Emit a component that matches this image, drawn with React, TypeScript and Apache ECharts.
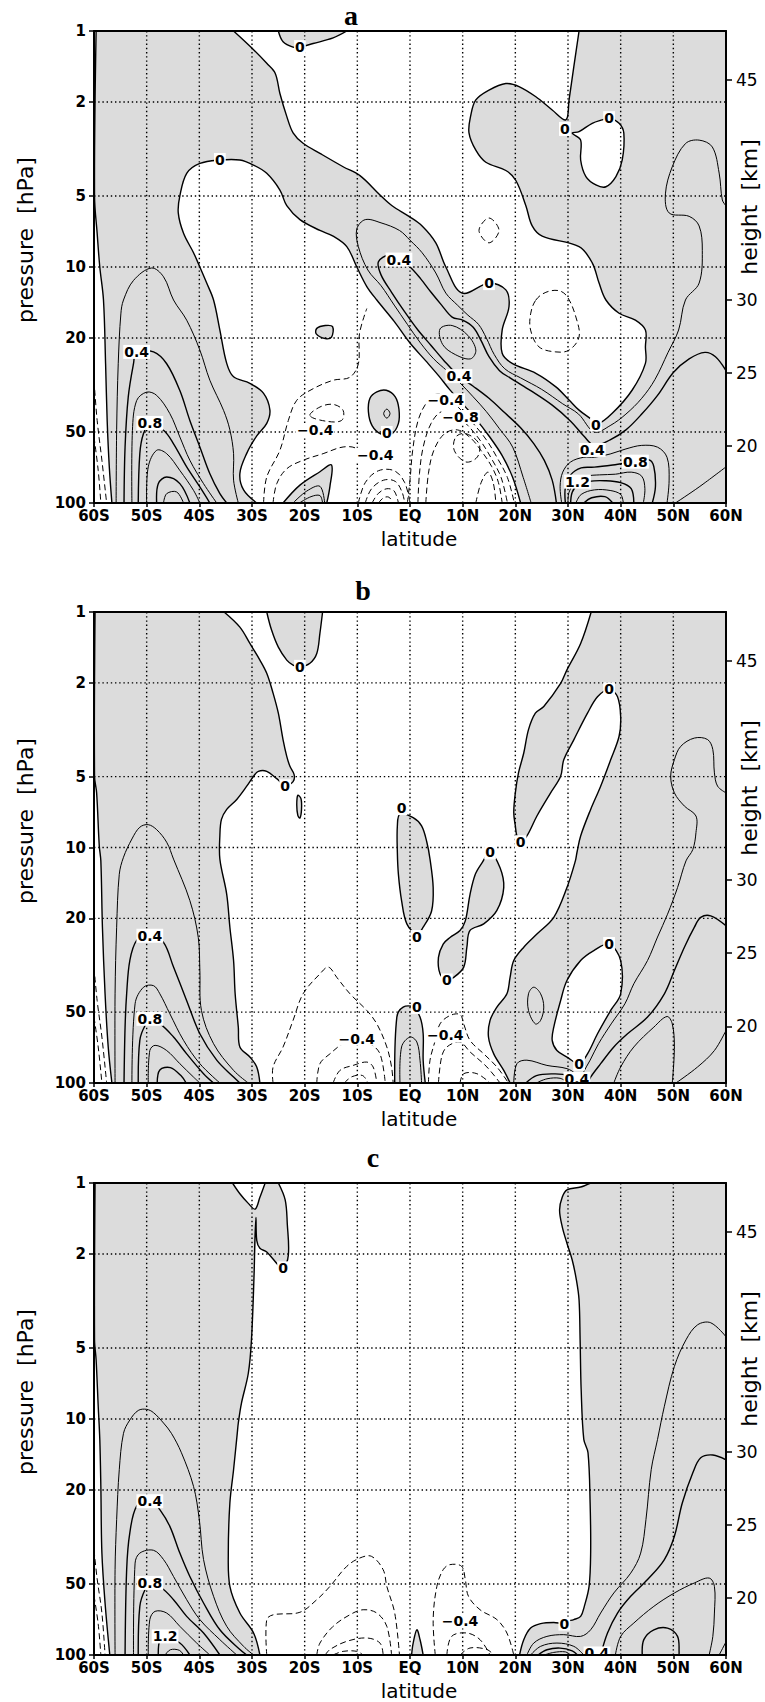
import React, { useEffect, useRef } from 'react';
import * as echarts from 'echarts';

type Pt = [number, number]; // [latitude (deg, S<0), pressure (hPa)]

// ---------------- axes / ticks ----------------
const LAT_MIN = -60;
const LAT_MAX = 60;
const LAT_GRID = [-50, -40, -30, -20, -10, 0, 10, 20, 30, 40, 50];
const PRESSURE_TICKS = [1, 2, 5, 10, 20, 50, 100];
const PRESSURE_GRID = [2, 5, 10, 20, 50];
const HEIGHT_TICKS = [20, 25, 30, 45];
const SCALE_HEIGHT_KM = 7;
const P_REF = 1000;
const PANEL_TITLES = ['a', 'b', 'c'];

// ---------------- panel a ----------------
const A_ZLEFT: Pt[] = [[-59.6, 1], [-59.9, 5], [-59.4, 7.2], [-58.9, 10], [-58.2, 13.8], [-57.8, 25.7], [-57.5, 44.7], [-57.1, 70], [-56.6, 100]];
const A_Z1: Pt[] = [[-33.5, 1], [-29.7, 1.2], [-27.2, 1.37], [-25.6, 1.51], [-24.7, 1.84], [-23.4, 2.3], [-22.2, 2.7], [-20.3, 2.99], [-17.1, 3.3], [-12.7, 3.76], [-9.5, 4.1], [-5.7, 4.95], [-3.4, 5.5], [-0.2, 6.1], [2.3, 6.7], [4.9, 7.9], [6.8, 10], [9.9, 12.9], [15, 11.7], [18.2, 12.5], [18.8, 14.7], [17.5, 18.5], [17.5, 23.2], [19.4, 25.6], [23.9, 28.2], [27.7, 32.2], [30.2, 36.6], [32.1, 40.4], [34.6, 44.5], [35.5, 46.5], [38.4, 41.7], [42.2, 33.2], [44.7, 25.6], [44.7, 21.8], [44.7, 18.5], [42.8, 16.8], [39.7, 15.7], [37.2, 13.8], [35.9, 11.7], [34.6, 9.6], [32.1, 8.2], [25.1, 7.4], [23.2, 6.7], [22, 5.5], [20.1, 4.3], [18.2, 3.9], [14.4, 3.6], [12.5, 3.2], [11.2, 2.7], [11.5, 2.3], [12.5, 1.96], [15, 1.78], [18.2, 1.67], [20.7, 1.72], [23.9, 1.9], [27, 2.16], [29.6, 2.38], [30.2, 1.96], [31.1, 1.42], [32.1, 1]];
const A_Z2: Pt[] = [[-29.1, 100], [-31.6, 88], [-32.3, 74.9], [-31, 61.6], [-29.1, 52], [-27.2, 46], [-26.6, 40.4], [-27.8, 34.3], [-30.4, 31.1], [-33.5, 29.2], [-34.8, 25.6], [-36.1, 18.5], [-37.3, 13.8], [-38.6, 11.7], [-39.9, 10], [-41.1, 8.7], [-43, 7.2], [-44, 5.9], [-43.7, 5], [-42.4, 4.01], [-39.9, 3.64], [-36.1, 3.52], [-32.3, 3.52], [-29.7, 3.7], [-27.2, 4.01], [-24.7, 4.72], [-23.4, 5.5], [-20.9, 6.3], [-17.1, 7.0], [-14.6, 7.4], [-12, 8.2], [-10.1, 10], [-8.2, 12.1], [-6.3, 13.8], [-3, 17], [0, 21], [3, 25], [5.5, 29], [7.5, 33], [10, 38], [12.5, 44], [15, 52], [17.5, 63], [19.5, 78], [21, 100]];
const A_ISLAND: Pt[] = [[30.8, 2.71], [32.1, 2.67], [34.6, 2.46], [36.5, 2.38], [37.8, 2.34], [39.7, 2.46], [40.6, 2.71], [40.3, 3.52], [39.1, 4.14], [37.2, 4.57], [35.3, 4.49], [33.4, 4.14], [32.4, 3.52], [32.4, 2.9]];
const A_G_TOP: Pt[] = [[-25, 1], [-24.1, 1.11], [-22.2, 1.17], [-20.9, 1.17], [-18.4, 1.13], [-14.6, 1.07], [-12, 1]];
const A_G_HILL: Pt[] = [[-24.1, 100], [-20.9, 84], [-17.1, 73.7], [-14.9, 69], [-15.2, 85], [-15.8, 100]];
const A_G_BLOB: Pt[] = [[-17.7, 18.2], [-16.1, 17.7], [-14.7, 17.9], [-14.9, 19.8], [-16.1, 20.1], [-17.8, 19.2]];
const A_G_OVAL: Pt[] = [[-7.6, 36], [-7.9, 41], [-7.2, 47], [-5.5, 51], [-3.5, 51], [-2.2, 46], [-2.1, 40], [-2.8, 35.5], [-4.5, 33.3], [-6.3, 33.8]];
const A_DIAMOND: Pt[] = [[-4.4, 40], [-3.8, 41.8], [-4.4, 43.7], [-5, 41.8]];
const A_P02: Pt[] = [[-55.8, 100], [-55.7, 49], [-55.4, 25.7], [-54.9, 15.8], [-54.4, 13.8], [-52.5, 11.4], [-49.1, 10.1], [-46.8, 11], [-44.9, 13.8], [-42.4, 16.8], [-39.9, 22.5], [-38, 30.2], [-35.4, 40.5], [-34.2, 49], [-33.5, 61.8], [-33.5, 80], [-32.6, 100]];
const A_P04: Pt[] = [[-54.3, 100], [-54.1, 57.9], [-53.5, 35.6], [-52.5, 25.7], [-51.9, 22.9], [-48.7, 22.9], [-46.2, 25.7], [-43.7, 33.4], [-41.8, 44.7], [-39.9, 57.9], [-38, 75.2], [-36.1, 91.3], [-34.8, 100]];
const A_P06: Pt[] = [[-52.8, 100], [-52.7, 49.2], [-51.9, 36.8], [-50, 33.9], [-48.1, 35], [-45.6, 41.8], [-43.7, 52.5], [-41.8, 65.9], [-39.2, 82.8], [-36.7, 100]];
const A_P08: Pt[] = [[-51.6, 100], [-51.3, 61.8], [-50.6, 50.8], [-49.4, 46.5], [-46.8, 49.2], [-44.9, 56.1], [-42.4, 70.3], [-39.9, 85.5], [-38, 100]];
const A_P10: Pt[] = [[-50, 100], [-49.7, 70.3], [-48.1, 59.8], [-46.2, 61.8], [-43.7, 72.8], [-41.1, 88.4], [-39.9, 100]];
const A_P12: Pt[] = [[-48.1, 100], [-47.8, 82.8], [-46.2, 77.6], [-43.7, 82.8], [-41.8, 100]];
const A_P14: Pt[] = [[-46.8, 100], [-46.2, 91.3], [-44.3, 89.8], [-43, 100]];
const A_HILL1: Pt[] = [[-22.2, 100], [-19.6, 89], [-17.1, 85], [-16.2, 100]];
const A_HILL2: Pt[] = [[-21, 100], [-18.8, 94], [-17.1, 93], [-16.6, 100]];
const A_B1: Pt[] = [[23, 100], [21.5, 78], [19.5, 58], [17, 48.5], [14.5, 41], [12, 35.5], [9.5, 31], [7, 27.5], [4.5, 24.5], [2, 21], [-0.5, 17.5], [-3, 14.5], [-5.5, 12], [-8, 10.3], [-9.8, 8.2], [-10.1, 6.9], [-8.5, 6.3], [-5.5, 6.5], [-2, 7.0], [0, 7.7], [2.3, 8.7], [4.9, 10.6], [6.8, 12.9], [9, 14.5], [11, 16], [13, 17.5], [14.5, 20], [16, 23.5], [18, 27], [21, 29.5], [25, 33], [29, 38], [32, 42], [35, 50], [38, 47], [41, 42], [44, 36], [46.5, 30], [49, 23], [51, 18.5], [52.3, 13.8], [54.9, 11.7], [55.5, 8.5], [54.9, 6.7], [53, 6.1], [49.2, 5.9], [48.5, 4.9], [49.8, 3.76], [52.3, 3.0], [54.9, 2.9], [57.4, 3.1], [58.7, 4.0], [59.3, 5.2], [60, 5.5]];
const A_B2: Pt[] = [[27.8, 100], [27, 80], [25.5, 66], [23.5, 56], [21, 48], [18, 41.5], [15, 36], [12, 32], [9.3, 29], [6.5, 25], [4, 21.5], [1.5, 18.5], [-1, 15.5], [-3.5, 12.8], [-5.5, 10.8], [-6, 9.5], [-4, 8.9], [-2.1, 9.3], [0, 10], [2, 11.2], [4, 12.8], [6, 14.5], [8, 16.3], [10, 16.8], [12, 18], [13.5, 20.5], [15, 24], [17, 27.5], [19, 29.5], [23, 33.5], [27, 38.5], [30.5, 45], [33, 52], [35, 57], [38, 54], [41, 49], [44, 42], [47, 35], [50, 28], [53, 24.5], [56, 23], [58, 24], [60, 27.5]];
const A_LOBE: Pt[] = [[5.7, 18.3], [8, 17.7], [11, 19.5], [12.5, 22.5], [11.5, 24.5], [8.6, 23.5], [6.2, 21.3]];
const A_B3: Pt[] = [[28.8, 100], [28.5, 85], [29, 74], [30.5, 67], [33, 64], [35, 64], [38, 62], [41, 59], [44, 57], [47, 58], [48.8, 64], [49.2, 80], [48.8, 100]];
const A_P08N: Pt[] = [[29.5, 100], [29.5, 86], [30.5, 76], [32.5, 71], [35, 70.5], [38.5, 69], [42.8, 66.8], [45.4, 65.7], [46.3, 70.2], [46.6, 85.3], [46, 100]];
const A_P10N: Pt[] = [[30, 100], [30.2, 90], [31.5, 81], [33.5, 77], [36, 76], [39, 75.5], [42, 74], [44, 77], [44.6, 87], [44.3, 100]];
const A_P12N: Pt[] = [[30.5, 100], [30.8, 90], [31.8, 84], [34, 81], [37, 80.5], [40, 82], [42, 87], [42.5, 100]];
const A_P14N: Pt[] = [[31.5, 100], [32.5, 92], [35, 88], [38, 88.5], [40, 92], [40.5, 100]];
const A_P16N: Pt[] = [[33, 100], [34.5, 95], [37, 94], [38.5, 100]];
const A_R2: Pt[] = [[50.4, 100], [54.9, 85.5], [60, 70.3]];
const A_NL1: Pt[] = [[-60, 30.2], [-59.4, 44.7], [-58.5, 65.9], [-57.6, 100]];
const A_NL2: Pt[] = [[-60, 52.5], [-59.2, 72.8], [-58.7, 100]];
const A_D1: Pt[] = [[-27.8, 100], [-27.2, 77.6], [-24.7, 59.8], [-23.1, 44.7], [-21.5, 36.7], [-18.4, 32.8], [-14.6, 30.2], [-11.4, 29.3], [-9.8, 25.7], [-9.6, 19.2], [-8.2, 15]];
const A_D2: Pt[] = [[-26, 100], [-25.3, 82.8], [-23.4, 71.6], [-20.3, 65.9], [-16.5, 61.8], [-12.7, 57.9], [-10.1, 58.9], [-8.9, 65.9]];
const A_D3: Pt[] = [[-19, 42.6], [-17.1, 39.2], [-14.6, 38.2], [-12.7, 40.5], [-13, 44.7], [-16, 45]];
const A_E1: Pt[] = [[-9.8, 100], [-8.5, 82], [-6, 73], [-3, 73], [-1, 82], [0, 100]];
const A_E2: Pt[] = [[-8.5, 100], [-7.3, 87], [-5, 80], [-2.8, 81], [-1.5, 90], [-1, 100]];
const A_E3: Pt[] = [[-7.2, 100], [-6, 91], [-4.4, 87], [-3, 89], [-2.2, 100]];
const A_E4: Pt[] = [[-6, 100], [-5, 95], [-4, 94.5], [-3.2, 100]];
const A_N1: Pt[] = [[-0.5, 100], [0, 80], [0.5, 60], [1.5, 45], [3, 38], [5, 34.5], [7, 35.5], [9.5, 40], [12, 46], [14.5, 54], [16.5, 64], [18.5, 78], [19.8, 100]];
const A_N2: Pt[] = [[1.5, 100], [1.8, 75], [2.5, 58], [4, 46], [6, 41], [8.5, 42], [11, 47], [13.5, 55], [15.5, 65], [17.3, 78], [18.5, 100]];
const A_N3: Pt[] = [[3, 100], [3.5, 75], [4.5, 60], [6.5, 51], [9, 49], [11.5, 53], [13.5, 60], [15.5, 70], [16.8, 82], [17.5, 100]];
const A_N4: Pt[] = [[12.5, 100], [13.5, 82], [14.8, 74], [15.8, 82], [16.3, 100]];
const A_NC: Pt[] = [[10.6, 50.8], [13.1, 56.1], [12.8, 63.8], [10.6, 67], [8.4, 59.8], [8.7, 52.5]];
const A_NC2: Pt[] = [[15, 6.2], [16.9, 7.0], [15, 7.9], [13.1, 7.0]];
const A_NLOOP: Pt[] = [[23.9, 13.8], [25.8, 12.8], [28.3, 12.6], [29.9, 13.4], [31.5, 16.3], [32.1, 19.8], [30.2, 22.5], [27.7, 22.9], [24.5, 21.8], [22.9, 18.5], [22.9, 15.8]];

// ---------------- panel b ----------------
const B_ZLEFT: Pt[] = [[-59.8, 1], [-59.9, 4.98], [-59.5, 5.86], [-59, 9.84], [-58.7, 11.4], [-58.4, 21.8], [-57.9, 41.8], [-57.3, 70.3], [-56.6, 100]];
const B_ZL: Pt[] = [[-35.3, 1], [-32.3, 1.16], [-30.4, 1.36], [-28.5, 1.6], [-27.2, 1.82], [-26, 2.21], [-25, 2.69], [-24.1, 3.49], [-23.4, 4.1], [-22.8, 4.52], [-22, 4.9], [-22.2, 5.25], [-23.7, 5.45], [-25.3, 5.1], [-27.2, 4.75], [-28.8, 4.75], [-29.7, 4.98], [-31, 5.49], [-32.9, 6.25], [-34.8, 6.89], [-35.8, 7.6], [-36.1, 8.9], [-36.1, 11.2], [-34.8, 15.8], [-34.2, 21.8], [-33.5, 30.2], [-33.2, 41.8], [-32.6, 57.9], [-32.3, 70.3], [-30.4, 77.6], [-29.1, 85.5], [-28.5, 100]];
const B_ZR: Pt[] = [[19, 100], [17.8, 88.4], [15.9, 75.2], [14.9, 63.8], [15.2, 54.2], [16.5, 47.6], [18.4, 41.8], [19, 35.6], [19.7, 30.2], [21.6, 26.5], [24.1, 23.3], [27.3, 19.8], [29.8, 14.8], [31.4, 11.4], [31.7, 10.5], [32.4, 8.93], [34.3, 6.89], [36.2, 5.49], [38.1, 4.24], [39.7, 3.37], [40, 2.78], [39.4, 2.29], [37.8, 2.13], [35.6, 2.29], [33.7, 2.69], [31.1, 3.49], [29.2, 4.24], [28.6, 4.98], [26.7, 5.86], [24.1, 7.35], [22.2, 8.93], [21, 9.5], [20.3, 8.93], [20, 8.1], [19.7, 7.11], [20, 5.86], [20.6, 4.82], [21.6, 3.97], [22.5, 3.16], [23.8, 2.69], [25.4, 2.52], [28.6, 2.01], [29.8, 1.76], [32.4, 1.36], [34.4, 1]];
const B_G_TOP: Pt[] = [[-27.2, 1], [-26.3, 1.19], [-25, 1.41], [-23.4, 1.6], [-22.2, 1.68], [-20.9, 1.71], [-19, 1.65], [-17.7, 1.5], [-17.1, 1.23], [-16.6, 1]];
const B_G_SLIVER: Pt[] = [[-21.3, 6.0], [-20.7, 6.2], [-20.6, 6.9], [-20.9, 7.5], [-21.3, 7.3], [-21.5, 6.6]];
const B_G_EQ: Pt[] = [[-1.9, 7.2], [0.6, 7.47], [2.2, 8.1], [3.2, 9.5], [3.8, 11.2], [4.4, 14.8], [4.1, 18.6], [2.5, 21.8], [1.3, 23.3], [-0.6, 21.1], [-1.6, 16.8], [-2.2, 13], [-2.4, 10.5], [-2.4, 8.1]];
const B_G_ISL: Pt[] = [[15.2, 10.5], [17.1, 12.2], [17.8, 14.8], [16.5, 18.5], [14, 21.1], [11.4, 22.5], [10.8, 26.5], [10.2, 32.2], [8.3, 35.6], [7, 36.5], [5.7, 34.4], [5.4, 29.3], [6.3, 25.7], [7.6, 24.1], [9.5, 22.5], [10.5, 20.5], [11.4, 15.8], [12.4, 13], [13.7, 11.6]];
const B_G_TONGUE: Pt[] = [[-2.9, 100], [-2.5, 52.5], [-1.3, 47.6], [0.6, 47.6], [1.9, 52.5], [2.5, 61.8], [2.5, 80], [2.9, 100]];
const B_POCKET: Pt[] = [[37.8, 25.7], [40, 30.2], [40, 41.8], [38.1, 49.2], [35.6, 61.8], [33.7, 75.2], [32.1, 82.8], [29.8, 77.6], [27.9, 72.8], [27, 65.9], [27.3, 57.9], [28.6, 44.7], [29.8, 36.7], [32.4, 30.2], [34.9, 27.4]];
const B_P02: Pt[] = [[-56, 100], [-56, 41.8], [-55.7, 21.8], [-55.2, 13], [-54.4, 11], [-52.8, 9.2], [-51.3, 8.2], [-49.7, 8.0], [-48.1, 8.4], [-46.2, 9.5], [-44.9, 11.2], [-41.8, 16.8], [-40.2, 24.1], [-39.9, 33.3], [-39.6, 49.2], [-37.3, 68.1], [-33.5, 88.4], [-30.7, 100]];
const B_P04: Pt[] = [[-54.3, 100], [-54.1, 57.9], [-53.8, 41.8], [-53.2, 30.2], [-51.9, 24.8], [-49.4, 23.2], [-46.8, 25.3], [-44.9, 32.2], [-42.4, 44.7], [-39.9, 61.8], [-36.7, 80], [-33.5, 94.4], [-32.3, 100]];
const B_P06: Pt[] = [[-52.8, 100], [-52.2, 46.1], [-50.6, 39.2], [-48.7, 38.6], [-47.5, 41.8], [-45.6, 50.8], [-43, 65.9], [-39.9, 82.8], [-36.1, 100]];
const B_P08: Pt[] = [[-51.6, 100], [-51.3, 65.9], [-50.3, 57], [-49.4, 55], [-47.5, 56.1], [-44.9, 63.8], [-42.4, 75.2], [-39.2, 91.3], [-37.3, 100]];
const B_P10: Pt[] = [[-49.7, 100], [-49.4, 72.8], [-48.4, 69.2], [-46.2, 72.8], [-43.7, 82.8], [-41.1, 94.4], [-39.9, 100]];
const B_P12: Pt[] = [[-48, 100], [-47.5, 88], [-45.5, 86], [-43.5, 93], [-42.5, 100]];
const B_NL1: Pt[] = [[-60, 32.2], [-59.4, 44.7], [-58.5, 63.8], [-57.6, 100]];
const B_NL2: Pt[] = [[-60, 52.5], [-59.2, 70.3], [-58.5, 100]];
const B_D1: Pt[] = [[-26, 100], [-26, 85.5], [-24.1, 70.3], [-22.2, 54.2], [-20.3, 41.8], [-17.1, 34.4], [-15.5, 32.2], [-13.9, 35.6], [-11.4, 41.8], [-8.2, 49.2], [-6.3, 56.1], [-4.4, 70.3], [-3.5, 85.5], [-3.2, 100]];
const B_D2: Pt[] = [[-17.7, 100], [-17.1, 82.8], [-15.2, 75.2], [-12.7, 68.1], [-10.1, 66], [-7.6, 68.1], [-5.7, 75.2], [-4.7, 100]];
const B_D3: Pt[] = [[-14.6, 100], [-13.3, 88.4], [-10.8, 84.2], [-8.2, 81.5], [-7, 85.5], [-6.3, 100]];
const B_D4: Pt[] = [[-12.5, 100], [-11, 94], [-9, 93], [-8, 100]];
const B_DN1: Pt[] = [[3.5, 100], [3.8, 80], [4.8, 65.9], [5.7, 56.1], [7.6, 51.7], [9.5, 51.2], [10.2, 56.1], [11.4, 65.9], [14, 75.2], [16.5, 85.5], [18.7, 100]];
const B_DN2: Pt[] = [[5.4, 100], [6, 77.6], [7, 70.3], [9.5, 67], [11.4, 73.8], [14.6, 85.5], [17.1, 100]];
const B_DN3: Pt[] = [[9.5, 100], [10.2, 91.3], [12.7, 91.3], [15.2, 100]];
const B_EQL: Pt[] = [[-1.9, 100], [-1.6, 70.3], [0, 63.8], [1.3, 67], [1.9, 80], [2.2, 100]];
const B_N1: Pt[] = [[60, 5.86], [58.4, 5.49], [57.8, 4.82], [57.5, 3.84], [56.5, 3.48], [54, 3.43], [51.4, 3.72], [50.2, 4.24], [49.5, 4.98], [50.2, 5.86], [52.1, 6.67], [54.3, 7.35], [54.3, 8.64], [53.7, 10.2], [52.4, 11.4], [50.8, 14.8], [48.9, 19.2], [47, 24], [45.1, 30.2], [42.5, 37.9], [40.8, 46.1], [38.2, 56.1], [35.8, 68.1], [34.2, 80], [32.8, 91.3], [32.2, 100]];
const B_N2: Pt[] = [[60, 21.5], [57.1, 19.5], [55.2, 19.8], [54, 21.8], [52.1, 26.5], [50.2, 33.3], [48.3, 41.8], [45.1, 52.5], [41.3, 61.8], [38.7, 70.3], [36.2, 82.8], [34.3, 94.4], [33.8, 100]];
const B_N3: Pt[] = [[38.7, 100], [40, 85.5], [42.5, 70.3], [46.3, 57.9], [48.8, 52.2], [49.8, 56.1], [50.2, 70.3], [49.8, 100]];
const B_N4: Pt[] = [[50.5, 100], [54.6, 85.5], [57.8, 72.8], [60, 59.8]];
const B_N5: Pt[] = [[19.7, 100], [20.3, 82.8], [22.2, 80], [26, 84.2], [29.8, 86.9], [31.5, 92], [32, 100]];
const B_N6: Pt[] = [[22, 100], [24, 93], [27, 91.5], [30, 93], [31, 100]];
const B_N7: Pt[] = [[24, 100], [26, 96], [28.5, 95.5], [30, 100]];
const B_NLOOP: Pt[] = [[23.5, 39.2], [24.8, 41.8], [25.4, 47.6], [24.8, 54.2], [23.8, 56.1], [22.5, 49.2], [22.5, 41.8]];

// ---------------- panel c ----------------
const C_ZLEFT: Pt[] = [[-59.8, 1], [-59.9, 4.62], [-59.6, 5.61], [-59.2, 8.83], [-58.9, 12.2], [-58.7, 19.3], [-58.5, 37], [-57.9, 60.2], [-57, 100]];
const C_NOTCH: Pt[] = [[-33.7, 1], [-32.3, 1.11], [-30.7, 1.22], [-29.4, 1.29], [-28.5, 1.15], [-27.5, 1]];
const C_PEN: Pt[] = [[-25, 1], [-23.7, 1.18], [-23.3, 1.49], [-23.1, 2.02], [-24.1, 2.3], [-25, 2.23], [-27.2, 1.96], [-28.5, 1.89], [-29.1, 1.75]];
const C_SPIKE: Pt[] = [[-29.25, 1.4], [-29.45, 1.75]];
const C_LONG: Pt[] = [[-29.6, 2.42], [-30.1, 4.62], [-30.7, 6.4], [-32, 8.56], [-32.6, 10.4], [-32.8, 11.5], [-33.5, 16.4], [-34.2, 22.7], [-34.5, 37], [-34.2, 51.2], [-32.3, 66.4], [-29.7, 80.7], [-28.5, 100]];
const C_ZR: Pt[] = [[20.8, 100], [21.6, 86.1], [22.9, 76.9], [24.8, 73.6], [27.3, 72.8], [29.3, 73.6], [29.8, 72], [31.1, 70.8], [32.4, 68.6], [33.1, 62.2], [34, 51.2], [34.3, 37], [34.2, 22.7], [33.8, 13.9], [33, 12.2], [32.5, 7.52], [32.3, 4.62], [32.1, 3.13], [31.6, 2.58], [30.8, 2.12], [29.8, 1.8], [28.9, 1.53], [28.4, 1.3], [28.9, 1.15], [29.8, 1.07], [32.4, 1.04], [34.3, 1]];
const C_G_BUMP: Pt[] = [[0.3, 100], [0.6, 89], [1.3, 78.2], [1.9, 86], [2.5, 100]];
const C_P02: Pt[] = [[-56, 100], [-56, 43.5], [-55.7, 26.7], [-55.2, 16.4], [-54.4, 11.5], [-53.2, 10.1], [-51.6, 9.2], [-50, 9.1], [-48.7, 9.4], [-46.8, 10.4], [-45.3, 11.5], [-43.4, 13.9], [-41.1, 19.3], [-40, 26.7], [-39.2, 39.4], [-37.3, 56.4], [-34.8, 75.6], [-31.6, 91.9], [-29.7, 100]];
const C_P04: Pt[] = [[-54.1, 100], [-53.8, 43.5], [-53.2, 30.4], [-51.9, 23.4], [-49.4, 21.8], [-47.5, 24.2], [-45.6, 28.5], [-43.7, 37], [-41.8, 46.5], [-39.2, 60.2], [-36.1, 78.2], [-32.3, 94.8], [-31, 100]];
const C_P06: Pt[] = [[-52.5, 100], [-52.2, 40.8], [-51.3, 37], [-48.7, 36], [-46.8, 39.4], [-44.9, 46.5], [-42.4, 58.3], [-39.9, 70.8], [-36.1, 86.1], [-32.9, 100]];
const C_P08: Pt[] = [[-51.6, 100], [-51.3, 62.2], [-50.3, 52.8], [-49.4, 50.5], [-47.2, 52], [-44.9, 58.3], [-42.4, 68.6], [-39.2, 80.7], [-36.1, 100]];
const C_P10: Pt[] = [[-49.7, 100], [-49.4, 70.8], [-48.4, 65.3], [-46.2, 66.4], [-43.7, 75.6], [-40.5, 89], [-38, 100]];
const C_P12: Pt[] = [[-47.8, 100], [-47.5, 86.1], [-46.5, 83.4], [-43.7, 89], [-41.8, 100]];
const C_P14: Pt[] = [[-46.5, 100], [-45.5, 95], [-43.8, 95.5], [-43, 100]];
const C_NL1: Pt[] = [[-60, 35.8], [-59.4, 47.6], [-58.5, 66.4], [-57.9, 100]];
const C_NL2: Pt[] = [[-60, 56], [-59.2, 74], [-58.7, 100]];
const C_D1: Pt[] = [[-27.2, 100], [-27.2, 70.8], [-25.9, 67.5], [-20.9, 65.9], [-17.7, 58.3], [-15.2, 51.2], [-12, 42.1], [-9.5, 38.8], [-7.3, 38.2], [-5.1, 43.5], [-4.4, 51.2], [-2.9, 66.4], [-2, 100]];
const C_D2: Pt[] = [[-17.7, 100], [-17.1, 89], [-14.6, 75.6], [-11.4, 67.5], [-8.9, 64.3], [-6.3, 66.4], [-4.4, 75.6], [-3.5, 100]];
const C_D3: Pt[] = [[-16.1, 100], [-15.2, 94.8], [-12, 87.5], [-8.2, 84.7], [-5.7, 89], [-5.1, 100]];
const C_D4: Pt[] = [[-14.6, 100], [-12.7, 96.5], [-10.1, 96.5], [-8.9, 100]];
const C_DN1: Pt[] = [[4.8, 100], [4.4, 70.8], [5.1, 51.2], [6.3, 43.5], [7.6, 41.4], [9.8, 42.1], [10.5, 47.9], [11.1, 56.4], [13.3, 64.3], [16.5, 70.8], [18.4, 80.7], [19.7, 100]];
const C_DN2: Pt[] = [[7, 100], [7.9, 83.4], [10.8, 80.7], [13.3, 86.1], [15.2, 100]];
const C_DN3: Pt[] = [[9.5, 100], [11.4, 93.4], [14.6, 94.8], [15.9, 100]];
const C_N02: Pt[] = [[60, 4.48], [57.1, 3.91], [54.6, 3.99], [52.4, 4.62], [50.2, 5.99], [48.3, 8.83], [47, 12.2], [45.8, 16.4], [44.8, 26.7], [43.8, 37], [41.9, 45], [38.7, 54.6], [36.2, 66.4], [34.3, 78.2], [32.4, 83.4], [29.2, 82], [26, 83.4], [23.5, 89], [22.2, 100]];
const C_N04: Pt[] = [[60, 14.9], [57.5, 14.2], [55.2, 14.6], [53.7, 16.9], [51.7, 22.7], [50.2, 31.4], [48.3, 39.4], [45.1, 47.9], [41.9, 56.4], [39.4, 66.4], [37.5, 80.7], [36.2, 100]];
const C_N06: Pt[] = [[39, 100], [40, 83.4], [42.5, 73.2], [46.3, 62.2], [50.2, 54.6], [54, 49.5], [56.8, 47.2], [57.8, 51.2], [57.8, 66.4], [57.5, 83.4], [56.8, 100]];
const C_N08: Pt[] = [[44.1, 100], [44.4, 86.1], [46.3, 78.2], [48.9, 76.9], [50.8, 83.4], [51.1, 98.1], [51, 100]];
const C_N09: Pt[] = [[58.7, 100], [60, 88]];
const C_A1: Pt[] = [[22.9, 100], [24.8, 91.9], [27.9, 89], [31.1, 91.9], [33, 100]];
const C_A2: Pt[] = [[24.3, 100], [26, 95], [28.5, 93.5], [30.8, 96], [31.8, 100]];
const C_A3: Pt[] = [[25.5, 100], [27.3, 97.5], [29.5, 97], [30.5, 100]];

// ---------------- contour labels ----------------
type Lab = [string, number, number];
const A_LABELS: Lab[] = [['0', -20.9, 1.17], ['0', -36.1, 3.52], ['0', 15, 11.7], ['0', 35.3, 46.5], ['0', 29.4, 2.6], ['0', 37.8, 2.34], ['0', -4.4, 50.5], ['0.4', -51.9, 22.9], ['0.4', -2.1, 9.3], ['0.4', 9.3, 29], ['0.4', 34.6, 59.6], ['0.8', -49.4, 45.8], ['0.8', 42.8, 66.8], ['1.2', 31.8, 81.2], ['\u22120.4', -18, 49.2], ['\u22120.4', -6.6, 62.5], ['\u22120.4', 6.8, 36.7], ['\u22120.8', 9.6, 43.2]];
const B_LABELS: Lab[] = [['0', -20.9, 1.71], ['0', -23.7, 5.5], ['0', -1.6, 6.8], ['0', 1.3, 24], ['0', 7, 36.7], ['0', 15.2, 10.5], ['0', 21, 9.5], ['0', 37.8, 2.13], ['0', 37.8, 25.7], ['0', 32.1, 82.8], ['0', 1.3, 47.6], ['0.4', -49.4, 23.7], ['0.4', 31.7, 96], ['0.8', -49.4, 53.4], ['\u22120.4', -10.1, 64.9], ['\u22120.4', 6.7, 62.8]];
const C_LABELS: Lab[] = [['0', -24.1, 2.3], ['0', 29.3, 73.6], ['0.4', -49.4, 22.3], ['0.4', 35.5, 98.5], ['0.8', -49.4, 49.5], ['1.2', -46.5, 83.4], ['\u22120.4', 9.5, 72]];

// ---------------- styling (not data) ----------------
const GRAY = '#dcdcdc';
const WHITE = '#ffffff';
const THICK = 1.4;
const THIN = 1.0;
const SMOOTH = 0.35;
const GRID_LEFT = 94;
const GRID_WIDTH = 632;
const GRID_TOPS = [31, 612, 1183];
const GRID_HEIGHTS = [472, 471, 472];
const TITLE_POS: [number, number][] = [[351, 15], [363, 590], [373, 1157]];

type Shape =
  | { k: 'fill'; c: string; pts: Pt[] }
  | { k: 'line'; w: number; dash: boolean; closed: boolean; pts: Pt[] }
  | { k: 'grid'; a: Pt; b: Pt }
  | { k: 'label'; t: string; at: Pt };

const F = (pts: Pt[], c = WHITE): Shape => ({ k: 'fill', c, pts });
const L = (pts: Pt[], w = THIN, dash = false, closed = false): Shape => ({ k: 'line', w, dash, closed, pts });
const Z = (pts: Pt[], closed = false): Shape => L(pts, THICK, false, closed);
const N = (pts: Pt[], closed = false): Shape => L(pts, THIN, true, closed);

function gridShapes(): Shape[] {
  const out: Shape[] = [];
  LAT_GRID.forEach((lat) => out.push({ k: 'grid', a: [lat, 1], b: [lat, 100] }));
  PRESSURE_GRID.forEach((p) => out.push({ k: 'grid', a: [LAT_MIN, p], b: [LAT_MAX, p] }));
  return out;
}
function labels(list: Lab[]): Shape[] {
  return list.map(([t, lat, p]) => ({ k: 'label', t, at: [lat, p] as Pt }));
}

const PANEL_A: Shape[] = [
  F([[-60, 1], ...A_ZLEFT, [-60, 100]]), F(A_Z1), F(A_Z2), F(A_ISLAND),
  F(A_G_TOP, GRAY), F(A_G_HILL, GRAY), F(A_G_BLOB, GRAY), F(A_G_OVAL, GRAY),
  ...gridShapes(),
  Z(A_ZLEFT), Z(A_Z1), Z(A_Z2), Z(A_ISLAND, true), Z(A_G_TOP), Z(A_G_HILL), Z(A_G_BLOB, true), Z(A_G_OVAL, true), L(A_DIAMOND, THIN, false, true),
  L(A_P02), L(A_P04, THICK), L(A_P06), L(A_P08, THICK), L(A_P10), L(A_P12, THICK), L(A_P14),
  L(A_HILL1), L(A_HILL2),
  L(A_B1), L(A_B2, THICK), L(A_LOBE, THIN, false, true), L(A_B3), L(A_P08N, THICK), L(A_P10N), L(A_P12N, THICK), L(A_P14N), L(A_P16N, THICK), L(A_R2),
  N(A_NL1), N(A_NL2), N(A_D1), N(A_D2), N(A_D3, true), N(A_E1), N(A_E2), N(A_E3), N(A_E4),
  N(A_N1), N(A_N2), N(A_N3), N(A_N4), N(A_NC, true), N(A_NC2, true), N(A_NLOOP, true),
  ...labels(A_LABELS),
];

const PANEL_B: Shape[] = [
  F([[-60, 1], ...B_ZLEFT, [-60, 100]]), F([...B_ZL, ...B_ZR]), F(B_POCKET),
  F(B_G_TOP, GRAY), F(B_G_SLIVER, GRAY), F(B_G_EQ, GRAY), F(B_G_ISL, GRAY), F(B_G_TONGUE, GRAY),
  ...gridShapes(),
  Z(B_ZLEFT), Z(B_ZL), Z(B_ZR), Z(B_POCKET, true), Z(B_G_TOP), Z(B_G_SLIVER, true), Z(B_G_EQ, true), Z(B_G_ISL, true), Z(B_G_TONGUE),
  L(B_P02), L(B_P04, THICK), L(B_P06), L(B_P08, THICK), L(B_P10), L(B_P12, THICK), L(B_EQL),
  L(B_N1), L(B_N2, THICK), L(B_N3), L(B_N4), L(B_N5), L(B_N6, THICK), L(B_N7), L(B_NLOOP, THIN, false, true),
  N(B_NL1), N(B_NL2), N(B_D1), N(B_D2), N(B_D3), N(B_D4), N(B_DN1), N(B_DN2), N(B_DN3),
  ...labels(B_LABELS),
];

const PANEL_C: Shape[] = [
  F([[-60, 1], ...C_ZLEFT, [-60, 100]]), F(C_NOTCH), F([...C_PEN, ...C_LONG, ...C_ZR]),
  F(C_G_BUMP, GRAY),
  ...gridShapes(),
  Z(C_ZLEFT), Z(C_NOTCH), Z([...C_PEN, ...C_SPIKE, ...C_LONG]), Z(C_ZR), Z(C_G_BUMP),
  L(C_P02), L(C_P04, THICK), L(C_P06), L(C_P08, THICK), L(C_P10), L(C_P12, THICK), L(C_P14),
  L(C_N02), L(C_N04, THICK), L(C_N06), L(C_N08, THICK), L(C_N09), L(C_A1), L(C_A2, THICK), L(C_A3),
  N(C_NL1), N(C_NL2), N(C_D1), N(C_D2), N(C_D3), N(C_D4), N(C_DN1), N(C_DN2), N(C_DN3),
  ...labels(C_LABELS),
];

const PANELS = [PANEL_A, PANEL_B, PANEL_C];

const onEdge = (p: Pt) => p[0] <= LAT_MIN + 1e-6 || p[0] >= LAT_MAX - 1e-6 || p[1] <= 1 + 1e-6 || p[1] >= 100 - 1e-6;

function makeRender(shapes: Shape[]) {
  return (params: any, api: any) => {
    const s = shapes[params.dataIndex];
    const P = (p: Pt) => api.coord([p[0], Math.log10(p[1])]);
    const c0 = api.coord([LAT_MIN, 0]);
    const c1 = api.coord([LAT_MAX, 2]);
    const cons = [
      [Math.min(c0[0], c1[0]), Math.min(c0[1], c1[1])],
      [Math.max(c0[0], c1[0]), Math.max(c0[1], c1[1])],
    ];
    if (s.k === 'fill') {
      const pts: number[][] = [];
      s.pts.forEach((p) => {
        const q = P(p);
        pts.push(q);
        if (onEdge(p)) pts.push([q[0], q[1]]);
      });
      return { type: 'polygon', z2: 1, shape: { points: pts, smooth: SMOOTH, smoothConstraint: cons }, style: { fill: s.c, stroke: null } };
    }
    if (s.k === 'grid') {
      const a = P(s.a);
      const b = P(s.b);
      return { type: 'line', z2: 5, shape: { x1: a[0], y1: a[1], x2: b[0], y2: b[1] }, style: { stroke: '#000', lineWidth: 1.4, lineDash: [1.4, 2.8], fill: null } };
    }
    if (s.k === 'line') {
      const pts = s.pts.map(P);
      return {
        type: s.closed ? 'polygon' : 'polyline',
        z2: 10,
        shape: { points: pts, smooth: SMOOTH, smoothConstraint: cons },
        style: { fill: 'none', stroke: '#000', lineWidth: s.w, lineDash: s.dash ? [6, 3.5] : null },
      };
    }
    const q = P(s.at);
    return {
      type: 'text',
      z2: 20,
      x: q[0],
      y: q[1],
      style: {
        text: s.t,
        fill: '#000',
        fontSize: 14,
        fontWeight: 'bold',
        fontFamily: 'DejaVu Sans',
        align: 'center',
        verticalAlign: 'middle',
        backgroundColor: '#fff',
        padding: [0, 1, 0, 1],
      },
    };
  };
}

const latLabel = (v: number) => (v < 0 ? `${-v}S` : v > 0 ? `${v}N` : 'EQ');
const LOG_TICKS = PRESSURE_TICKS.map((p) => Math.log10(p));
const H_MIN = SCALE_HEIGHT_KM * Math.log(P_REF / 100);
const H_MAX = SCALE_HEIGHT_KM * Math.log(P_REF / 1);

function buildOption() {
  const grid: any[] = [];
  const xAxis: any[] = [];
  const yAxis: any[] = [];
  const series: any[] = [];
  const graphic: any[] = [];
  const axisLine = { show: true, onZero: false, lineStyle: { color: '#000', width: 2 } };
  PANELS.forEach((shapes, i) => {
    grid.push({ left: GRID_LEFT, top: GRID_TOPS[i], width: GRID_WIDTH, height: GRID_HEIGHTS[i], show: true, backgroundColor: GRAY, borderWidth: 0 });
    xAxis.push({
      type: 'value', gridIndex: i, min: LAT_MIN, max: LAT_MAX, interval: 10, position: 'bottom', z: 10,
      axisLine, axisTick: { show: true, length: 4, lineStyle: { color: '#000', width: 1.5 } },
      axisLabel: { color: '#000', fontFamily: 'DejaVu Sans', fontWeight: 'bold', fontSize: 15, margin: 5, formatter: latLabel },
      splitLine: { show: false },
    });
    xAxis.push({
      type: 'value', gridIndex: i, min: LAT_MIN, max: LAT_MAX, position: 'top', z: 10,
      axisLine, axisTick: { show: false }, axisLabel: { show: false }, splitLine: { show: false },
    });
    yAxis.push({
      type: 'value', gridIndex: i, min: 0, max: 2, inverse: true, position: 'left', z: 10,
      axisLine, axisTick: { show: true, length: 5, customValues: LOG_TICKS, lineStyle: { color: '#000', width: 1.5 } },
      axisLabel: { customValues: LOG_TICKS, color: '#000', fontFamily: 'DejaVu Sans', fontWeight: 'bold', fontSize: 15, margin: 8, formatter: (v: number) => String(Math.round(Math.pow(10, v))) },
      splitLine: { show: false },
    });
    yAxis.push({
      type: 'value', gridIndex: i, min: H_MIN, max: H_MAX, position: 'right', z: 10,
      axisLine, axisTick: { show: true, length: 6, customValues: HEIGHT_TICKS, lineStyle: { color: '#000', width: 1.5 } },
      axisLabel: { customValues: HEIGHT_TICKS, color: '#000', fontFamily: 'DejaVu Sans', fontSize: 17, margin: 10 },
      splitLine: { show: false },
    });
    series.push({
      type: 'custom', coordinateSystem: 'cartesian2d', xAxisIndex: 2 * i, yAxisIndex: 2 * i, silent: true, clip: true,
      renderItem: makeRender(shapes), data: shapes.map((_, j) => [0, 1, j]),
    });
    const top = GRID_TOPS[i];
    graphic.push({ type: 'text', x: TITLE_POS[i][0], y: TITLE_POS[i][1], style: { text: PANEL_TITLES[i], fill: '#000', fontFamily: 'Liberation Serif', fontWeight: 'bold', fontSize: 28, align: 'center', verticalAlign: 'middle' } });
    graphic.push({ type: 'text', x: 419, y: top + GRID_HEIGHTS[i] + 36, style: { text: 'latitude', fill: '#000', fontFamily: 'DejaVu Sans', fontSize: 20, align: 'center', verticalAlign: 'middle' } });
    graphic.push({ type: 'text', x: 25, y: top + 209, rotation: Math.PI / 2, style: { text: 'pressure\u00a0 [hPa]', fill: '#000', fontFamily: 'DejaVu Sans', fontSize: 22, align: 'center', verticalAlign: 'middle' } });
    graphic.push({ type: 'text', x: 749, y: top + 176, rotation: Math.PI / 2, style: { text: 'height\u00a0 [km]', fill: '#000', fontFamily: 'DejaVu Sans', fontSize: 22, align: 'center', verticalAlign: 'middle' } });
  });
  return { animation: false, backgroundColor: '#fff', grid, xAxis, yAxis, series, graphic };
}

export default function App() {
  const ref = useRef<HTMLDivElement>(null);
  useEffect(() => {
    if (!ref.current) return;
    const chart = echarts.init(ref.current, null, { renderer: 'svg' });
    chart.setOption(buildOption() as any);
    return () => chart.dispose();
  }, []);
  return <div ref={ref} style={{ position: 'absolute', left: 0, top: 0, width: 765, height: 1702 }} />;
}
